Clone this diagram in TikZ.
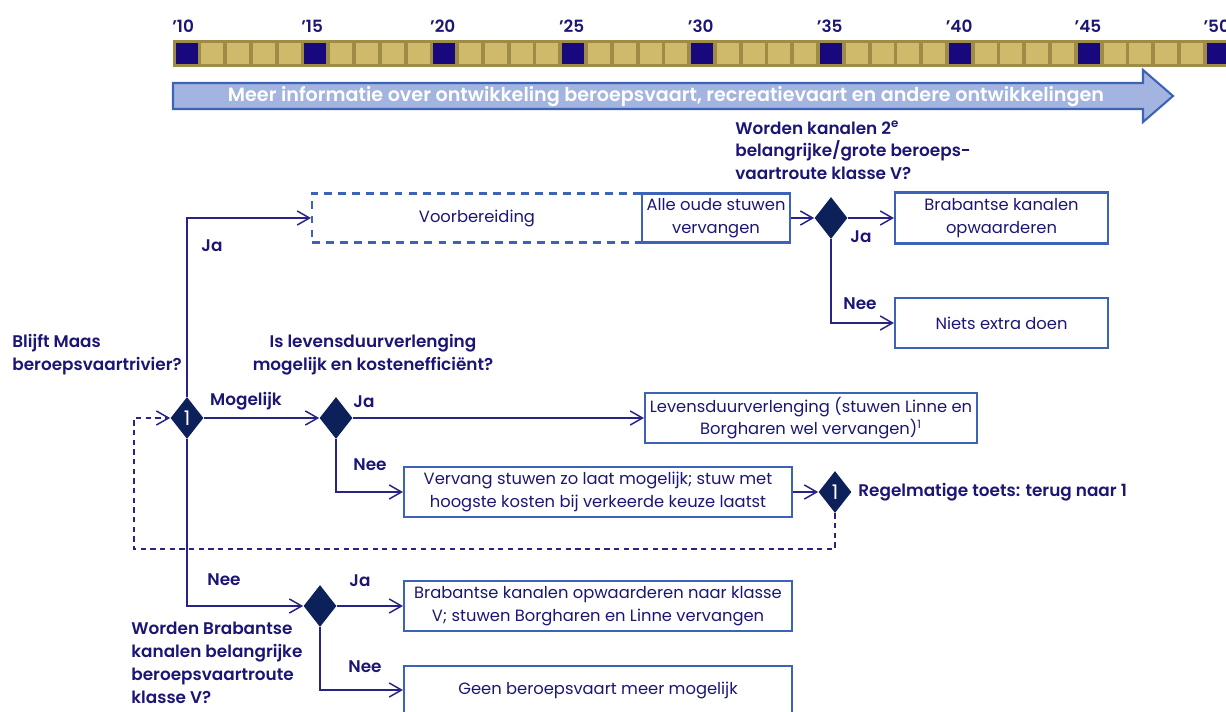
\documentclass[tikz,border=0pt]{standalone}
\usepackage{fontspec}
\setmainfont{Poppins}[BoldFont={Poppins SemiBold}]
\usepackage{tikz}
\usetikzlibrary{shapes.geometric,arrows.meta,positioning,calc}
\definecolor{darknavy}{RGB}{12,33,89}
\definecolor{textnavy}{RGB}{27,22,117}
\definecolor{linenavy}{RGB}{42,35,135}
\definecolor{boxblue}{RGB}{61,99,185}
\definecolor{arrowfill}{RGB}{163,180,225}
\definecolor{barolive}{RGB}{158,139,70}
\definecolor{cellgold}{RGB}{207,185,106}
\definecolor{cellnavy}{RGB}{23,9,125}

\begin{document}
\begin{tikzpicture}[x=0.02cm, y=-0.02cm,
    font=\fontsize{9.6}{13}\selectfont,
    box/.style={draw=boxblue, line width=1.2pt, text=textnavy, align=center, inner sep=2pt, font=\fontsize{9.3}{13}\selectfont},
    dashbox/.style={box, dash pattern=on 4.5pt off 3.5pt},
    decision/.style={diamond, fill=darknavy, minimum width=0.66cm, minimum height=0.84cm, inner sep=0pt, text=white, font=\fontsize{11.5}{11.5}\selectfont},
    question/.style={text=textnavy, font=\fontsize{9.6}{13}\selectfont\bfseries, align=left, inner sep=0pt},
    answer/.style={text=textnavy, font=\fontsize{9.6}{13}\selectfont\bfseries, inner sep=0pt},
    flow/.style={draw=linenavy, line width=0.85pt, -{Straight Barb[length=7pt,width=8pt]}},
    loopback/.style={flow, dash pattern=on 3pt off 2.5pt}
]
    \useasboundingbox (0,0) rectangle (1226,712);
    \clip (0,0) rectangle (1226,712);

    % Timeline with years
    \fill[barolive] (173,40) rectangle (1240,67);
    \foreach \i in {0,...,41}{
        \pgfmathtruncatemacro{\r}{mod(\i,5)}
        \ifnum\r=0 \def\cellcol{cellnavy}\else\def\cellcol{cellgold}\fi
        \fill[\cellcol] ({175.5+\i*25.78},43) rectangle ++(22,21);
    }
    \foreach \yr [count=\k from 0] in {10,15,...,50}
        \node[answer, anchor=west] (yr\yr) at ({172+\k*128.9},26) {’\yr};

    % Information arrow
    \draw[boxblue, line width=1.2pt, fill=arrowfill] (173,83) -- (1143,83) -- (1143,70) -- (1173,96)
        -- (1143,122) -- (1143,109) -- (173,109) -- cycle;
    \node[text=white, font=\fontsize{10.9}{12}\selectfont\bfseries] (info) at (666,97)
        {Meer informatie over ontwikkeling beroepsvaart, recreatievaart en andere ontwikkelingen};

    % Decisions
    \node[decision] (d1) at (187,418) {1};
    \node[decision] (d2) at (336,418) {};
    \node[decision] (d3) at (320,606) {};
    \node[decision] (d4) at (835,492) {1};
    \node[decision] (d5) at (831,218) {};

    % Boxes
    \node[dashbox, minimum width=6.6cm, minimum height=0.98cm] (voorb) at (477,218) {Voorbereiding};
    \node[box, minimum width=2.96cm, minimum height=0.98cm] (alle) at (716,218) {Alle oude stuwen\\vervangen};
    \node[box, minimum width=4.26cm, minimum height=1.02cm] (brab) at (1001.5,218) {Brabantse kanalen\\opwaarderen};
    \node[box, minimum width=4.26cm, minimum height=1.0cm] (niets) at (1001.5,323) {Niets extra doen};
    \node[box, minimum width=6.64cm, minimum height=0.96cm] (levens) at (811,418)
        {Levensduurverlenging (stuwen Linne en\\Borgharen wel vervangen)\textsuperscript{1}};
    \node[box, minimum width=7.76cm, minimum height=1.0cm] (vervang) at (598,492)
        {Vervang stuwen zo laat mogelijk; stuw met\\hoogste kosten bij verkeerde keuze laatst};
    \node[box, minimum width=7.76cm, minimum height=1.0cm] (brabV) at (598,606)
        {Brabantse kanalen opwaarderen naar klasse\\V; stuwen Borgharen en Linne vervangen};
    \node[box, minimum width=7.76cm, minimum height=0.96cm] (geen) at (598,690) {Geen beroepsvaart meer mogelijk};

    % Questions
    \node[question, anchor=west] (qmaas) at (12,355) {Blijft Maas\\beroepsvaartrivier?};
    \node[question, align=center] (qlevens) at (373,355) {Is levensduurverlenging\\mogelijk en kostenefficiënt?};
    \node[question, anchor=west] (qkanalen) at (735,150.5)
        {Worden kanalen 2\textsuperscript{e}\\belangrijke/grote beroeps-\\vaartroute klasse V?};
    \node[question, anchor=west] (qbrab) at (131,663)
        {Worden Brabantse\\kanalen belangrijke\\beroepsvaartroute\\klasse V?};
    \node[question, anchor=west] (toets) at (858,492) {Regelmatige toets: terug naar 1};

    % Answers
    \node[answer] (ja1) at (212,246) {Ja};
    \node[answer] (nee1) at (224,580) {Nee};
    \node[answer] (mog) at (246,401) {Mogelijk};
    \node[answer] (ja2) at (364,402) {Ja};
    \node[answer] (nee2) at (370,465) {Nee};
    \node[answer] (ja5) at (861,237) {Ja};
    \node[answer] (nee5) at (860,304) {Nee};
    \node[answer] (ja3) at (360,581) {Ja};
    \node[answer] (nee3) at (365,667) {Nee};

    % Connectors
    \draw[flow] (d1.north) |- (voorb.west);
    \draw[flow] (d1.east) -- (d2.west);
    \draw[flow] (d1.south) |- (d3.west);
    \draw[flow] (d2.east) -- (levens.west);
    \draw[flow] (d2.south) |- (vervang.west);
    \draw[flow] (vervang.east) -- (d4.west);
    \draw[flow] (alle.east) -- (d5.west);
    \draw[flow] (d5.east) -- (brab.west);
    \draw[flow] (d5.south) |- (niets.west);
    \draw[flow] (d3.east) -- (brabV.west);
    \draw[flow] (d3.south) |- (geen.west);
    \coordinate (loopcorner) at (134,549);
    \draw[loopback] (d4.south) |- (loopcorner) |- (d1.west);
\end{tikzpicture}
\end{document}
